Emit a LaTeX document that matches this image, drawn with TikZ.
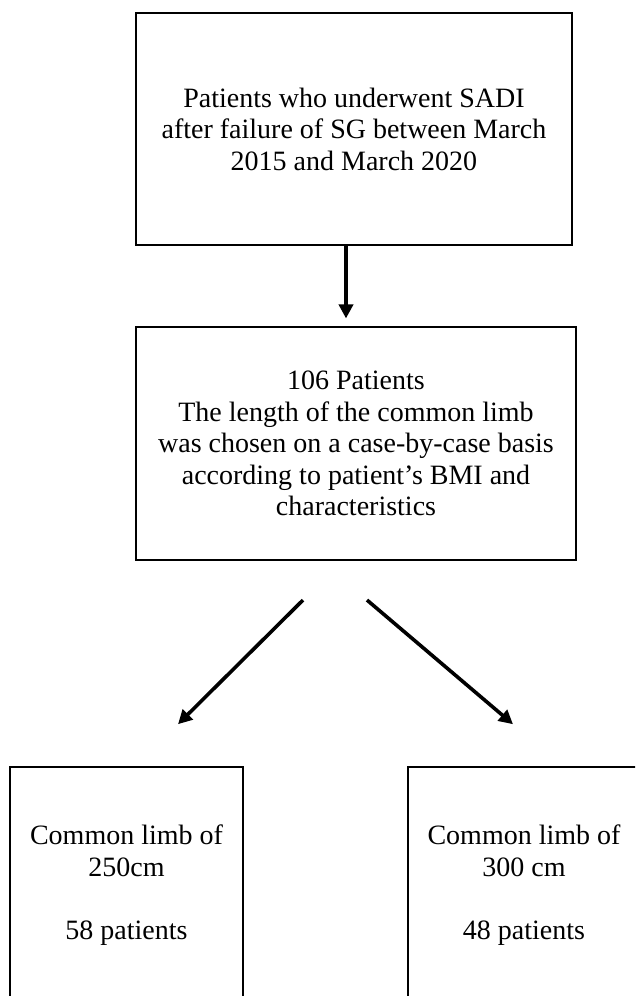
\documentclass[tikz,border=0pt]{standalone}
\usepackage{fontspec}
\setmainfont{Liberation Serif}
\usetikzlibrary{arrows.meta}
\begin{document}
\begin{tikzpicture}[x=1pt,y=-1pt,
  box/.style={draw,line width=1.6pt,align=center,inner sep=0pt,
    font=\fontsize{28}{31.5}\selectfont},
  arr/.style={line width=3.6pt,-{Triangle[length=14pt,width=14pt]}}]
\useasboundingbox (0,0) rectangle (635,996);
\clip (0,0) rectangle (635,996);

\node[box,minimum width=436pt,minimum height=232pt] (sadi) at (354,129)
  {Patients who underwent SADI\\after failure of SG between March\\2015 and March 2020};
\node[box,minimum width=440pt,minimum height=232.5pt] (pts) at (356,443.5)
  {106 Patients\\The length of the common limb\\was chosen on a case-by-case basis\\according to patient’s BMI and\\characteristics};
\node[box,minimum width=233pt,minimum height=236pt] (cl250) at (126.5,885)
  {Common limb of\\250cm\\[31.5pt]58 patients};
\node[box,minimum width=232pt,minimum height=236pt] (cl300) at (524,885)
  {Common limb of\\300 cm\\[31.5pt]48 patients};

\draw[arr] ([xshift=-8pt]sadi.south) -- ([xshift=-10pt,yshift=8pt]pts.north);
\draw[arr] ([xshift=-53pt,yshift=-39.5pt]pts.south) -- ([xshift=51.5pt,yshift=42pt]cl250.north);
\draw[arr] ([xshift=11pt,yshift=-39.5pt]pts.south) -- ([xshift=-11pt,yshift=42pt]cl300.north);
\end{tikzpicture}
\end{document}
